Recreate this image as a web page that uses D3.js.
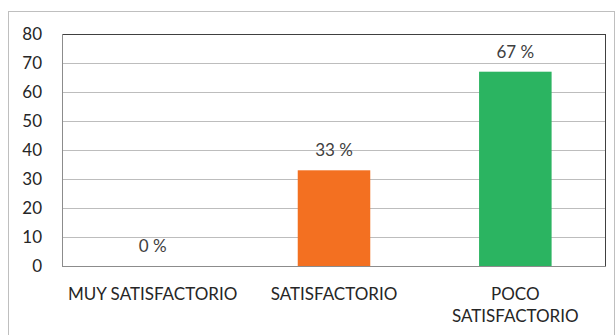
<!DOCTYPE html>
<html>
<head>
<meta charset="utf-8">
<script src="https://cdn.jsdelivr.net/npm/d3@7"></script>
<style>
  body { margin: 0; background: #fff; }
  svg { display: block; font-family: Lato, "Open Sans", sans-serif; }
</style>
</head>
<body>
<div id="chart"></div>
<script>
const categories = [['MUY SATISFACTORIO'], ['SATISFACTORIO'], ['POCO', 'SATISFACTORIO']];
const values = [0, 33, 67];
const valueLabels = ['0 %', '33 %', '67 %'];
const barColors = ['#f37021', '#f37021', '#2bb461'];
const yTicks = [0, 10, 20, 30, 40, 50, 60, 70, 80];

const width = 616, height = 335;
const margin = { top: 34, right: 10, bottom: 69, left: 62 };
const innerW = width - margin.left - margin.right;
const innerH = height - margin.top - margin.bottom;

const svg = d3.select('#chart').append('svg')
    .attr('width', width)
    .attr('height', height);

// outer frame
svg.append('rect')
    .attr('x', 8.5).attr('y', 11.5)
    .attr('width', 606).attr('height', 330)
    .attr('fill', 'none')
    .attr('stroke', '#bfbfbf');

const g = svg.append('g').attr('transform', `translate(${margin.left},${margin.top})`);

const x = d3.scaleBand()
    .domain(d3.range(categories.length))
    .range([0, innerW])
    .paddingInner(0.6)
    .paddingOuter(0.3);

const y = d3.scaleLinear().domain([0, 80]).range([innerH, 0]);

// gridlines
g.selectAll('.grid').data(yTicks).enter().append('line')
    .attr('x1', 0).attr('x2', innerW)
    .attr('y1', d => Math.round(y(d)) + 0.5)
    .attr('y2', d => Math.round(y(d)) + 0.5)
    .attr('stroke', '#bdbdbd');

// bars
g.selectAll('.bar').data(values).enter().append('rect')
    .attr('x', (d, i) => x(i))
    .attr('y', d => y(d))
    .attr('width', x.bandwidth())
    .attr('height', d => innerH - y(d))
    .attr('fill', (d, i) => barColors[i]);

// plot frame: dark top/right, grey left/bottom
g.append('line').attr('x1', 0).attr('x2', innerW).attr('y1', 0.5).attr('y2', 0.5).attr('stroke', '#404040');
g.append('line').attr('x1', innerW - 0.5).attr('x2', innerW - 0.5).attr('y1', 0).attr('y2', innerH).attr('stroke', '#404040');
g.append('line').attr('x1', 0.5).attr('x2', 0.5).attr('y1', 0).attr('y2', innerH).attr('stroke', '#8c8c8c');
g.append('line').attr('x1', 0).attr('x2', innerW).attr('y1', innerH + 0.5).attr('y2', innerH + 0.5).attr('stroke', '#8c8c8c');

// y axis labels
const yAxis = g.append('g')
    .call(d3.axisLeft(y).tickValues(yTicks).tickSize(0).tickPadding(20));
yAxis.select('.domain').remove();
yAxis.selectAll('text')
    .attr('fill', '#262626')
    .style('font-size', '17px')
    .style('font-family', 'Lato, "Open Sans", sans-serif');

// value labels
g.selectAll('.val').data(values).enter().append('text')
    .attr('x', (d, i) => x(i) + x.bandwidth() / 2)
    .attr('y', d => y(d) - 14)
    .attr('text-anchor', 'middle')
    .attr('fill', '#404040')
    .style('font-size', '17px')
    .text((d, i) => valueLabels[i]);

// category labels
const cat = g.selectAll('.cat').data(categories).enter().append('text')
    .attr('x', (d, i) => x(i) + x.bandwidth() / 2)
    .attr('y', innerH + 34)
    .attr('text-anchor', 'middle')
    .attr('fill', '#262626')
    .style('font-size', '17px');
cat.selectAll('tspan').data(d => d).enter().append('tspan')
    .attr('x', function() { return d3.select(this.parentNode).attr('x'); })
    .attr('dy', (d, i) => i === 0 ? 0 : 22)
    .text(d => d);
</script>
</body>
</html>
